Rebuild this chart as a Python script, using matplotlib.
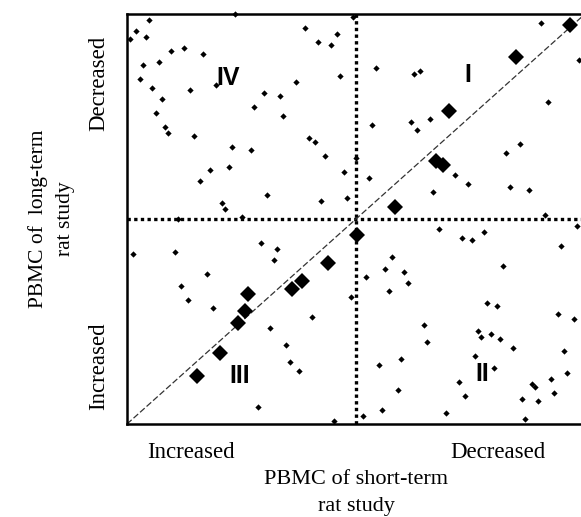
import numpy as np
import matplotlib
matplotlib.use("Agg")
import matplotlib.pyplot as plt

### Scores on a 0-100 scale (short-term on x, long-term on y)
SMALL_X = [4.9, 23.6, 2.0, 4.1, 0.7, 9.7, 12.4, 16.7, 3.4, 6.9, 2.8, 5.5, 13.8, 19.4,
           7.6, 6.3, 8.3, 9.0, 14.6, 22.9, 27.1, 18.1, 22.3, 15.9, 20.8, 21.5, 30.6,
           11.1, 25.0, 38.9, 41.8, 44.5, 45.9, 46.6, 36.9, 29.9, 33.4, 27.8, 34.1,
           39.7, 41.0, 43.2, 47.3, 42.4, 48.0, 50.1, 49.4,
           90.5, 98.7, 54.3, 62.7, 64.0, 53.6, 61.9, 66.2, 63.3, 91.9, 85.7, 82.8,
           52.9, 71.7, 74.5, 66.8, 83.6, 87.8, 91.3,
           1.4, 10.4, 29.3, 32.7, 32.0, 17.4, 11.8, 13.3, 18.8, 48.8, 40.3, 31.3,
           34.8, 35.5, 37.6, 28.5, 45.2,
           98.3, 68.2, 73.1, 75.3, 78.0, 94.7, 57.8, 56.4, 60.5, 52.1, 61.3, 57.1,
           82.1, 78.7, 80.8, 94.0, 97.5, 64.8, 65.4, 76.6, 77.3, 79.4, 81.5, 84.3,
           95.4, 75.9, 59.8, 55.0, 80.1, 96.1, 92.6, 88.4, 89.1, 72.4, 73.7, 59.2,
           93.2, 86.3, 89.8, 55.7, 51.5, 69.6, 87.0]
SMALL_Y = [98.5, 99.9, 95.9, 94.5, 93.8, 91.0, 91.6, 90.3, 87.6, 88.3, 84.1, 82.0, 81.4, 82.7,
           79.3, 75.9, 72.4, 71.0, 70.3, 67.6, 66.8, 62.0, 62.8, 59.3, 53.8, 52.4, 55.9,
           50.0, 50.4, 96.5, 93.1, 92.4, 95.1, 84.8, 83.4, 80.7, 80.0, 77.2, 75.1,
           69.7, 68.9, 65.4, 61.4, 54.5, 55.1, 64.8, 99.3,
           97.9, 88.9, 86.8, 85.4, 86.2, 73.0, 73.7, 74.5, 71.7, 78.6, 68.2, 66.1,
           59.9, 60.7, 58.6, 56.5, 57.9, 57.1, 51.0,
           41.4, 42.0, 44.1, 42.7, 39.9, 36.5, 33.7, 30.3, 28.2, 30.9, 26.2, 23.4,
           19.3, 15.1, 13.0, 4.1, 0.7,
           48.3, 47.6, 45.4, 44.8, 46.8, 43.4, 40.7, 37.9, 37.1, 35.9, 34.5, 32.4,
           38.5, 29.6, 28.9, 26.8, 25.5, 24.1, 19.9, 22.8, 21.3, 22.0, 20.7, 18.6,
           17.9, 16.5, 15.8, 14.4, 13.7, 12.4, 11.0, 9.7, 9.0, 10.2, 6.9, 8.2,
           7.6, 6.2, 5.5, 3.4, 2.0, 2.8, 1.3]

# Genes shared by both studies (big diamonds)
BIG_X = [96.7, 84.9, 70.3, 67.5, 69.1, 58.6, 50.2, 43.9, 38.2, 36.1, 26.5, 25.8, 24.3, 20.2, 15.3]
BIG_Y = [97.2, 89.6, 76.4, 64.1, 63.2, 53.0, 46.2, 39.2, 35.0, 33.0, 31.7, 27.6, 24.7, 17.2, 11.7]

QUADRANTS = ["I", "II", "III", "IV"]
QUAD_POS = [(74.5, 85.0), (77.5, 12.1), (24.5, 11.8), (22.1, 84.5)]

X_TICK_POS = [14, 81]
Y_TICK_POS = [14, 83]
X_TICKS = ["Increased", "Decreased"]
Y_TICKS = ["Increased", "Decreased"]
X_LABEL = "PBMC of short-term\nrat study"
Y_LABEL = "PBMC of  long-term\nrat study"

SERIF = ["Liberation Serif", "DejaVu Serif"]

fig = plt.figure(figsize=(5.81, 5.17), dpi=100)
ax = fig.add_axes([127 / 581, 93 / 517, 458 / 581, 410 / 517])
ax.set_xlim(0, 100)
ax.set_ylim(0, 100)

# Quadrant dividers and the identity line
ax.axvline(50, color="black", lw=2.4, linestyle=(0, (1, 1)), dash_capstyle="butt", zorder=2)
ax.axhline(50, color="black", lw=2.4, linestyle=(0, (1, 1)), dash_capstyle="butt", zorder=2)
ax.plot([0, 100], [0, 100], color="#333333", lw=0.9, linestyle=(0, (5, 2)), zorder=2)

ax.plot(SMALL_X, SMALL_Y, "D", color="black", ms=3.2, mew=0, zorder=3, clip_on=False)
ax.plot(BIG_X, BIG_Y, "D", color="black", ms=7.8, mew=0, zorder=4, clip_on=False)

for name, (qx, qy) in zip(QUADRANTS, QUAD_POS):
    ax.text(qx, qy, name, ha="center", va="center", fontsize=18, fontweight="bold",
            family=["Liberation Sans", "DejaVu Sans"])

for side in ["left", "top", "bottom", "right"]:
    ax.spines[side].set_linewidth(1.8)

ax.set_xticks(X_TICK_POS, X_TICKS)
ax.set_yticks(Y_TICK_POS, Y_TICKS)
ax.tick_params(length=0, labelsize=16.5)
ax.tick_params(axis="x", pad=13)
ax.tick_params(axis="y", pad=13)
for lbl in ax.get_yticklabels():
    lbl.set_rotation(90)
    lbl.set_va("center")
for lbl in ax.get_xticklabels() + ax.get_yticklabels():
    lbl.set_family(SERIF)

ax.set_xlabel(X_LABEL, fontsize=16, family=SERIF, labelpad=5, linespacing=1.55)
ax.set_ylabel(Y_LABEL, fontsize=15.5, family=SERIF, labelpad=9, linespacing=1.6)

fig.savefig("out.png", dpi=100)
